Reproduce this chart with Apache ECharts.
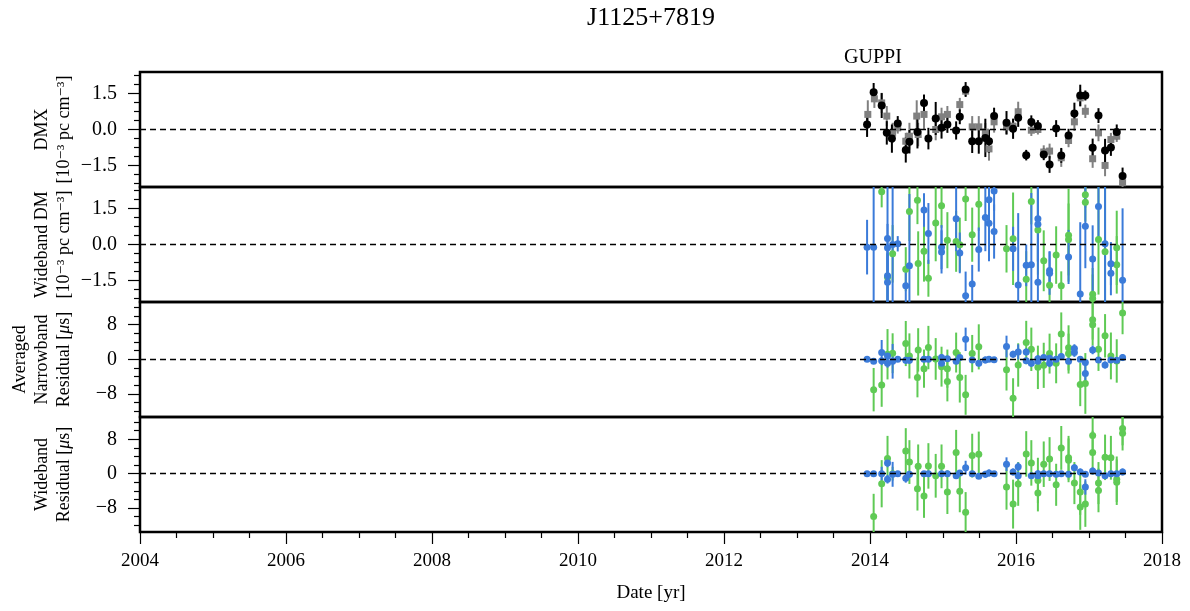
<!DOCTYPE html>
<html>
<head>
<meta charset="utf-8">
<title>J1125+7819</title>
<script src="https://cdn.jsdelivr.net/npm/echarts@6/dist/echarts.min.js"></script>
<style>
  html, body { margin: 0; padding: 0; background: #fff; }
  #chart { width: 1190px; height: 611px; }
</style>
</head>
<body>
<div id="chart"></div>
<script>
// ---- Data: [year, value, uncertainty] ----

// DMX, narrowband fit (black circles), 1e-3 pc cm^-3
const dmxNB = [
  [2013.96,0.21,0.52],[2014.05,1.56,0.38],[2014.16,1.00,0.52],[2014.23,-0.14,0.49],[2014.30,-0.38,0.59],
  [2014.38,0.25,0.31],[2014.49,-0.86,0.52],[2014.54,-0.51,0.49],[2014.65,-0.10,0.69],[2014.74,1.11,0.35],
  [2014.80,-0.38,0.45],[2014.90,0.46,0.69],[2014.98,0.07,0.45],[2015.06,0.21,0.35],[2015.18,-0.04,0.38],
  [2015.23,0.53,0.31],[2015.31,1.67,0.31],[2015.40,-0.49,0.49],[2015.49,-0.49,0.52],[2015.58,-0.35,0.80],
  [2015.63,-0.49,0.49],[2015.70,0.56,0.35],[2015.87,0.28,0.49],[2015.96,0.03,0.42],[2016.03,0.49,0.38],
  [2016.14,-1.07,0.22],[2016.21,0.31,0.28],[2016.30,0.15,0.24],[2016.38,-1.04,0.24],[2016.46,-1.46,0.35],
  [2016.55,0.04,0.35],[2016.62,-1.08,0.31],[2016.72,-0.25,0.28],[2016.80,0.67,0.45],[2016.88,1.42,0.45],
  [2016.95,1.42,0.21],[2017.05,-0.76,0.38],[2017.13,0.58,0.31],[2017.22,-0.88,0.49],[2017.30,-0.75,0.35],
  [2017.38,-0.10,0.31],[2017.46,-1.94,0.35]
];

// DMX, wideband fit (grey squares)
const dmxWB = [
  [2013.97,0.63,0.59],[2014.06,1.28,0.38],[2014.16,1.11,0.42],[2014.23,0.56,0.42],[2014.31,-0.14,0.42],
  [2014.38,0.07,0.24],[2014.49,-0.49,0.35],[2014.54,-0.28,0.56],[2014.64,0.56,0.66],[2014.66,-0.21,0.49],
  [2014.74,0.63,0.63],[2014.90,0.00,0.45],[2014.98,0.53,0.38],[2015.06,0.63,0.35],[2015.23,1.04,0.28],
  [2015.31,1.60,0.20],[2015.40,0.11,0.45],[2015.49,0.11,0.45],[2015.58,-0.11,0.38],[2015.63,-0.81,0.49],
  [2015.70,0.32,0.45],[2015.87,0.11,0.31],[2015.96,0.14,0.31],[2016.03,0.74,0.42],[2016.21,-0.03,0.24],
  [2016.30,0.00,0.21],[2016.38,-0.94,0.28],[2016.46,-0.90,0.31],[2016.62,-1.18,0.38],[2016.72,-0.46,0.28],
  [2016.80,0.32,0.38],[2016.88,1.32,0.35],[2016.95,0.76,0.28],[2017.05,-1.22,0.38],[2017.13,-0.14,0.35],
  [2017.22,-1.50,0.45],[2017.30,-0.42,0.28],[2017.38,-0.28,0.24],[2017.46,-2.22,0.28]
];

// Wideband DM, L-band (blue)
const dmL = [
  [2013.96,-0.11,1.14],[2014.05,-0.11,3.0],[2014.24,0.25,3.0],[2014.24,-0.14,1.0],[2014.24,-1.30,1.2],
  [2014.24,-1.58,1.2],[2014.31,0.00,3.0],[2014.38,0.03,0.32],[2014.49,-1.72,0.73],[2014.54,-0.89,3.0],
  [2014.74,1.44,0.70],[2014.80,0.46,1.27],[2014.98,-0.11,0.92],[2014.98,-0.31,0.90],[2015.18,1.07,1.35],
  [2015.23,-0.35,0.85],[2015.31,-2.14,1.01],[2015.40,-1.65,0.80],[2015.49,-0.21,0.92],[2015.58,1.13,1.41],
  [2015.63,0.89,1.59],[2015.63,1.87,1.00],[2015.70,2.23,0.82],[2015.70,0.54,1.13],[2015.96,-0.18,0.92],
  [2016.03,-1.69,3.0],[2016.14,-0.87,0.87],[2016.21,-0.85,3.0],[2016.30,1.07,1.80],[2016.30,0.85,1.55],
  [2016.30,-1.58,1.58],[2016.46,-1.08,0.80],[2016.46,-1.20,0.90],[2016.72,-0.52,1.13],[2016.88,-2.07,3.0],
  [2016.95,0.76,1.75],[2017.05,-0.61,1.41],[2017.13,1.59,1.31],[2017.22,0.03,3.0],[2017.30,-0.80,0.90],
  [2017.30,-1.20,0.92],[2017.46,-1.49,3.0]
];

// Wideband DM, 800 MHz (green)
const dm800 = [
  [2014.16,2.20,0.65],[2014.24,-1.37,1.00],[2014.31,-0.39,1.20],[2014.49,-1.03,0.92],[2014.54,1.38,1.24],
  [2014.65,1.85,1.00],[2014.66,-0.79,1.34],[2014.74,-0.28,1.27],[2014.80,-1.41,0.77],[2014.90,0.90,1.60],
  [2014.98,1.62,0.92],[2015.06,0.18,1.17],[2015.18,0.13,1.27],[2015.23,-0.01,1.13],[2015.31,1.90,0.92],
  [2015.40,0.41,1.13],[2015.49,1.68,1.11],[2015.87,-0.18,0.99],[2015.96,0.24,1.93],[2016.14,-1.45,1.17],
  [2016.21,1.80,0.96],[2016.30,0.61,1.87],[2016.38,-0.68,1.27],[2016.46,-1.70,0.72],[2016.55,-0.44,1.20],
  [2016.62,-1.72,0.60],[2016.72,0.39,1.94],[2016.72,0.21,1.50],[2016.95,2.08,0.54],[2016.95,1.76,0.80],
  [2017.05,-2.08,1.10],[2017.05,-2.25,1.00],[2017.13,0.21,2.30],[2017.22,-0.30,3.0],[2017.38,-0.14,1.55],
  [2017.38,-0.85,1.20]
];

// Averaged narrowband residuals, L-band (blue), microseconds
const nbResL = [
  [2013.96,0.00,0.5],[2014.05,-0.46,0.5],[2014.16,1.55,2.9],[2014.16,-0.31,0.6],[2014.24,0.77,1.0],
  [2014.24,-0.93,1.0],[2014.31,-0.46,4.0],[2014.38,0.00,0.5],[2014.49,-0.23,0.8],[2014.54,-0.23,0.8],
  [2014.74,0.00,0.6],[2014.80,0.00,0.6],[2014.98,0.39,0.8],[2014.98,-0.93,0.8],[2015.06,0.15,0.6],
  [2015.18,-0.46,0.6],[2015.23,0.39,0.6],[2015.31,4.60,2.7],[2015.40,-0.15,0.6],[2015.49,-0.93,0.7],
  [2015.58,-0.15,0.8],[2015.63,0.00,0.6],[2015.70,-0.08,0.5],[2015.87,2.94,2.5],[2015.96,1.16,0.8],
  [2016.03,1.70,1.74],[2016.14,1.70,0.8],[2016.14,-0.31,0.6],[2016.21,-0.93,0.8],[2016.30,0.15,0.8],
  [2016.30,-0.46,0.6],[2016.38,0.39,0.6],[2016.46,0.23,0.8],[2016.46,-0.93,0.8],[2016.55,0.00,0.6],
  [2016.62,0.62,0.8],[2016.72,-0.46,0.6],[2016.80,2.47,1.0],[2016.80,1.55,1.0],[2016.88,0.00,0.6],
  [2016.95,-0.77,0.8],[2016.95,-3.25,2.3],[2017.05,2.16,1.0],[2017.13,-0.15,0.6],[2017.22,-1.31,0.8],
  [2017.30,-0.15,0.6],[2017.38,-0.23,0.6],[2017.46,0.39,0.8]
];

// Averaged narrowband residuals, 800 MHz (green)
const nbRes800 = [
  [2014.05,-7.00,5.0],[2014.16,-5.95,5.0],[2014.24,1.16,5.8],[2014.31,1.39,4.6],[2014.49,3.63,5.2],
  [2014.54,0.77,5.2],[2014.65,-4.17,4.6],[2014.66,2.16,5.0],[2014.74,-2.16,4.4],[2014.80,2.70,5.0],
  [2014.90,0.08,4.8],[2014.98,-1.70,4.6],[2015.06,-2.16,4.4],[2015.06,-5.10,4.6],[2015.18,1.55,4.6],
  [2015.23,-4.17,5.8],[2015.31,-8.19,4.6],[2015.40,1.31,4.3],[2015.49,2.86,5.2],[2015.87,-2.40,4.8],
  [2015.96,-8.97,4.6],[2016.03,-1.31,5.0],[2016.14,3.86,5.0],[2016.21,2.30,5.0],[2016.30,-1.86,5.0],
  [2016.38,-1.39,5.2],[2016.46,1.31,4.6],[2016.55,-0.93,4.6],[2016.62,5.80,5.0],[2016.72,2.63,5.2],
  [2016.72,1.31,4.6],[2016.88,-5.80,5.0],[2016.95,-5.57,7.0],[2017.05,7.96,4.8],[2017.05,9.12,4.6],
  [2017.13,2.32,5.0],[2017.22,5.41,5.0],[2017.30,0.77,5.4],[2017.38,-0.39,5.0],[2017.46,10.67,4.9]
];

// Wideband residuals, L-band (blue)
const wbResL = [
  [2013.96,0.00,0.5],[2014.05,0.00,0.5],[2014.16,0.00,1.6],[2014.24,2.50,1.0],[2014.24,-1.30,1.0],
  [2014.31,-0.16,2.9],[2014.38,0.00,0.5],[2014.49,-1.10,1.0],[2014.54,-0.16,0.8],[2014.74,0.00,0.6],
  [2014.80,0.00,0.6],[2014.98,0.00,0.6],[2015.06,0.00,0.6],[2015.18,-0.47,0.6],[2015.23,0.16,0.6],
  [2015.31,1.40,1.6],[2015.40,0.00,0.6],[2015.49,-0.63,0.6],[2015.58,-0.16,0.8],[2015.63,0.16,0.8],
  [2015.70,0.00,0.6],[2015.87,2.20,1.6],[2015.96,0.40,0.8],[2016.03,1.60,1.0],[2016.03,-0.47,0.8],
  [2016.21,-0.47,0.6],[2016.30,0.00,0.8],[2016.30,-0.47,0.6],[2016.38,0.00,0.6],[2016.46,0.00,0.6],
  [2016.55,-0.16,0.6],[2016.62,0.00,0.6],[2016.72,-0.16,0.6],[2016.80,1.40,0.8],[2016.88,0.40,0.8],
  [2016.95,-0.16,0.6],[2016.95,-3.10,1.8],[2017.05,0.63,0.8],[2017.13,0.16,0.6],[2017.22,-0.47,0.6],
  [2017.30,0.00,0.6],[2017.38,0.00,0.6],[2017.46,0.40,0.8]
];

// Wideband residuals, 800 MHz (green)
const wbRes800 = [
  [2014.05,-10.0,5.3],[2014.16,-2.35,5.5],[2014.24,3.50,5.3],[2014.31,0.00,1.6],[2014.49,5.30,5.3],
  [2014.54,2.70,5.1],[2014.65,-3.50,5.1],[2014.66,1.70,5.1],[2014.74,-5.20,5.1],[2014.80,1.80,5.3],
  [2014.90,-0.50,5.1],[2014.98,1.70,5.1],[2015.06,-4.30,5.1],[2015.18,4.90,5.3],[2015.23,-4.10,4.9],
  [2015.31,-9.00,4.7],[2015.40,4.20,5.1],[2015.49,4.50,5.3],[2015.87,-3.10,5.3],[2015.96,-7.10,5.7],
  [2016.03,-2.40,5.1],[2016.14,4.60,5.3],[2016.21,2.50,5.3],[2016.30,-1.60,5.3],[2016.30,-4.50,4.3],
  [2016.38,2.20,5.3],[2016.46,3.40,5.1],[2016.55,-2.60,4.9],[2016.62,6.00,5.1],[2016.72,3.70,5.1],
  [2016.72,3.10,5.1],[2016.80,-2.20,4.9],[2016.88,-4.30,5.3],[2016.88,-7.80,5.3],[2016.95,-7.10,5.3],
  [2017.05,8.90,4.7],[2017.05,4.90,5.1],[2017.13,-2.20,4.9],[2017.13,-3.90,5.1],[2017.22,3.80,5.3],
  [2017.30,3.70,5.1],[2017.38,-1.30,5.3],[2017.38,-2.00,5.3],[2017.46,10.50,3.9],[2017.46,9.40,4.0]
];

// Axis settings
const yearRange = [2004, 2018];
const yRanges = [[-2.4, 2.4], [-2.4, 2.4], [-13.3, 13.2], [-13.6, 13.2]];
const dmMajor = [-1.5, 0, 1.5];
const dmMinor = [-2.25, -1.875, -1.125, -0.75, -0.375, 0.375, 0.75, 1.125, 1.875, 2.25];
const resMajor = [-8, 0, 8];
const resMinor = [-12, -10, -6, -4, -2, 2, 4, 6, 10, 12];
const yNames = [
  'DMX\n[10⁻³ pc cm⁻³]',
  'Wideband DM\n[10⁻³ pc cm⁻³]',
  'Averaged\nNarrowband\nResidual [{i|μ}s]',
  'Wideband\nResidual [{i|μ}s]'
];

// ---- Styling ----
const FONT = '"Liberation Serif", "DejaVu Serif", "Times New Roman", serif';
const BLACK = '#000000', GREY = '#808080', BLUE = '#3b7bd9', GREEN = '#5fca55';
const panelTops = [72, 187, 302, 417];
const panelH = 115;

const chart = echarts.init(document.getElementById('chart'), null, { renderer: 'canvas' });

const grids = panelTops.map(t => ({
  left: 140, right: 28, top: t, height: panelH,
  show: true, borderColor: '#000', borderWidth: 2.5, backgroundColor: 'transparent'
}));

const xAxes = grids.map((g, i) => {
  const bottom = i === grids.length - 1;
  return {
    type: 'value', gridIndex: i, min: yearRange[0], max: yearRange[1], interval: 2,
    position: 'bottom',
    axisLine: { show: false, onZero: false },
    splitLine: { show: false },
    axisTick: { show: bottom, length: 12, lineStyle: { color: '#000', width: 1.2 } },
    minorTick: { show: bottom, splitNumber: 4, length: 6, lineStyle: { color: '#000', width: 1.2 } },
    axisLabel: {
      show: bottom, margin: 20, color: '#000', fontFamily: FONT, fontSize: 19,
      formatter: v => String(v)
    },
    name: bottom ? 'Date [yr]' : '',
    nameLocation: 'middle', nameGap: 52, nameMoveOverlap: false,
    nameTextStyle: { color: '#000', fontFamily: FONT, fontSize: 19 }
  };
});

function fmtTick(panel) {
  return v => {
    const s = panel < 2 ? v.toFixed(1) : String(Math.round(v));
    return s.replace('-', '\u2212');
  };
}

const yAxes = [];
grids.forEach((g, i) => {
  const major = i < 2 ? dmMajor : resMajor;
  const minor = i < 2 ? dmMinor : resMinor;
  yAxes.push({
    type: 'value', gridIndex: i, position: 'left', offset: 0,
    min: yRanges[i][0], max: yRanges[i][1],
    axisLine: { show: false, onZero: false }, splitLine: { show: false },
    axisTick: { show: true, customValues: major, length: 12, lineStyle: { color: '#000', width: 1.2 } },
    axisLabel: {
      customValues: major, margin: 23, color: '#000', fontFamily: FONT, fontSize: 20,
      formatter: fmtTick(i)
    },
    name: yNames[i], nameLocation: 'middle', nameRotate: 90, nameGap: 65, nameMoveOverlap: false,
    nameTextStyle: {
      color: '#000', fontFamily: FONT, fontSize: 18, lineHeight: 22, align: 'center',
      rich: { i: { fontFamily: FONT, fontSize: 18, fontStyle: 'italic', color: '#000', lineHeight: 22 } }
    }
  });
  // second axis on the same side carries the shorter minor ticks
  yAxes.push({
    type: 'value', gridIndex: i, position: 'left', offset: 0,
    min: yRanges[i][0], max: yRanges[i][1],
    axisLine: { show: false, onZero: false }, splitLine: { show: false },
    axisTick: { show: true, customValues: minor, length: 6, lineStyle: { color: '#000', width: 1.2 } },
    axisLabel: { show: false }
  });
});

function errRender(color, width) {
  return function (params, api) {
    const x = api.value(0), v = api.value(1), e = api.value(2);
    const lo = api.coord([x, v - e]);
    const hi = api.coord([x, v + e]);
    const cs = params.coordSys;
    const clampY = y => Math.max(cs.y, Math.min(cs.y + cs.height, y));
    return {
      type: 'line',
      shape: { x1: lo[0], y1: clampY(lo[1]), x2: hi[0], y2: clampY(hi[1]) },
      style: { stroke: color, lineWidth: width }
    };
  };
}

function errSeries(data, panel, color) {
  return {
    type: 'custom', xAxisIndex: panel, yAxisIndex: panel * 2,
    dimensions: ['year', 'value', 'err'], encode: { x: 0, y: 1 },
    data: data, clip: true, silent: true,
    renderItem: errRender(color, 2)
  };
}

function pointSeries(data, panel, color, symbol, size, zeroLine) {
  const s = {
    type: 'scatter', xAxisIndex: panel, yAxisIndex: panel * 2,
    data: data.map(d => [d[0], d[1]]),
    symbol: symbol, symbolSize: size,
    itemStyle: { color: color, opacity: 1 },
    silent: true, clip: true
  };
  if (zeroLine) {
    s.markLine = {
      silent: true, symbol: 'none', animation: false,
      label: { show: false },
      lineStyle: { color: '#000', type: [6, 4], width: 1.4 },
      data: [{ yAxis: 0 }]
    };
  }
  return s;
}

const series = [
  // DMX panel
  errSeries(dmxWB, 0, GREY), pointSeries(dmxWB, 0, GREY, 'rect', 7, true),
  errSeries(dmxNB, 0, BLACK), pointSeries(dmxNB, 0, BLACK, 'circle', 8, false),
  // wideband DM panel
  errSeries(dm800, 1, GREEN), pointSeries(dm800, 1, GREEN, 'circle', 7, true),
  errSeries(dmL, 1, BLUE), pointSeries(dmL, 1, BLUE, 'circle', 7, false),
  // averaged narrowband residuals
  errSeries(nbRes800, 2, GREEN), pointSeries(nbRes800, 2, GREEN, 'circle', 7, true),
  errSeries(nbResL, 2, BLUE), pointSeries(nbResL, 2, BLUE, 'circle', 7, false),
  // wideband residuals
  errSeries(wbRes800, 3, GREEN), pointSeries(wbRes800, 3, GREEN, 'circle', 7, true),
  errSeries(wbResL, 3, BLUE), pointSeries(wbResL, 3, BLUE, 'circle', 7, false)
];

chart.setOption({
  animation: false,
  backgroundColor: '#fff',
  grid: grids,
  xAxis: xAxes,
  yAxis: yAxes,
  series: series,
  graphic: [
    {
      type: 'text', x: 651, y: 18,
      style: { text: 'J1125+7819', font: '26px ' + FONT, fill: '#000',
               textAlign: 'center', textVerticalAlign: 'middle', align: 'center', verticalAlign: 'middle' }
    },
    {
      type: 'text', x: 873, y: 58,
      style: { text: 'GUPPI', font: '20px ' + FONT, fill: '#000',
               textAlign: 'center', textVerticalAlign: 'middle', align: 'center', verticalAlign: 'middle' }
    }
  ]
});
</script>
</body>
</html>
